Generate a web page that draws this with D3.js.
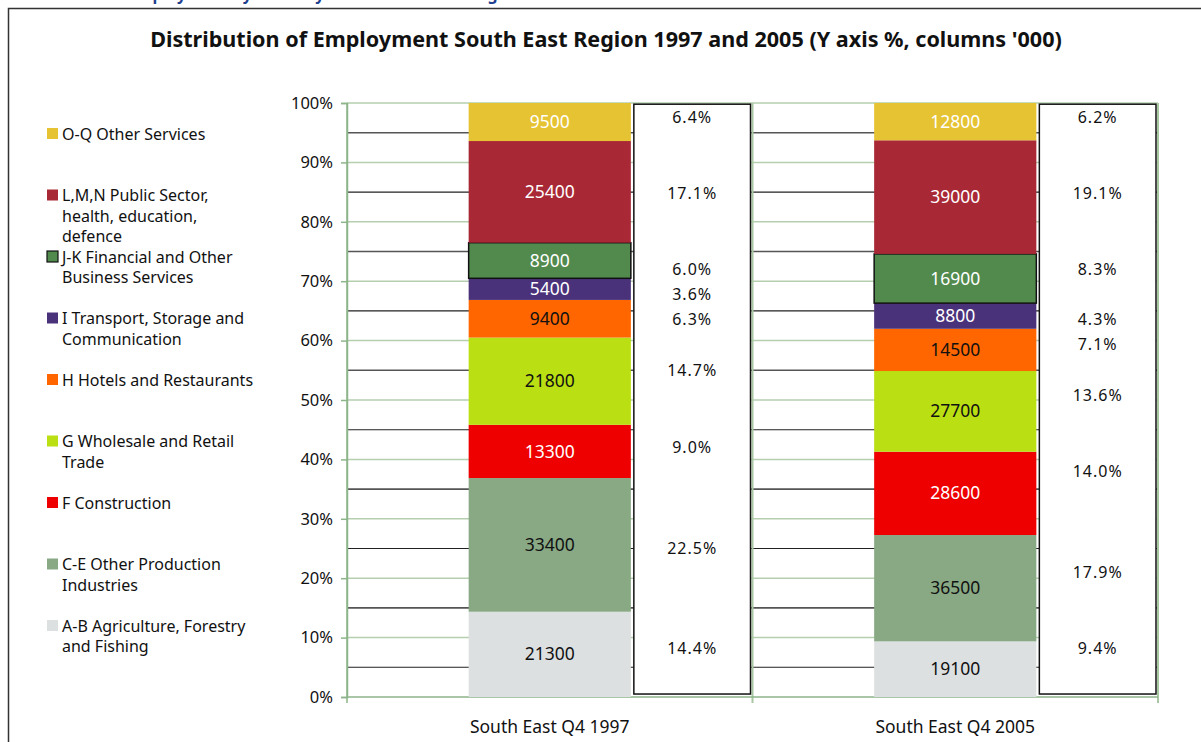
<!DOCTYPE html>
<html>
<head>
<meta charset="utf-8">
<script src="https://cdn.jsdelivr.net/npm/d3@7"></script>
<style>
  body { margin: 0; background: #fff; }
  svg text { font-family: "Noto Sans", "DejaVu Sans", sans-serif; }
</style>
</head>
<body>
<div id="chart"></div>
<script>
// categories, bottom of the stack first
var sectors = ["A-B", "C-E", "F", "G", "H", "I", "J-K", "L,M,N", "O-Q"];
var legendLines = [
  ["A-B Agriculture, Forestry", "and Fishing"],
  ["C-E Other Production", "Industries"],
  ["F Construction"],
  ["G Wholesale and Retail", "Trade"],
  ["H Hotels and Restaurants"],
  ["I Transport, Storage and", "Communication"],
  ["J-K Financial and Other", "Business Services"],
  ["L,M,N Public Sector,", "health, education,", "defence"],
  ["O-Q Other Services"]
];
var colours = ["#dde0e1", "#89a985", "#ee0000", "#badf12", "#ff6600", "#4a327a", "#528a4e", "#a92835", "#e6c333"];
var labelInk = ["#111", "#111", "#fff", "#111", "#111", "#fff", "#fff", "#fff", "#fff"];

var years = ["South East Q4 1997", "South East Q4 2005"];
// employment, '000
var jobs1997 = [21300, 33400, 13300, 21800, 9400, 5400, 8900, 25400, 9500];
var jobs2005 = [19100, 36500, 28600, 27700, 14500, 8800, 16900, 39000, 12800];
// printed shares
var share1997 = [14.4, 22.5, 9.0, 14.7, 6.3, 3.6, 6.0, 17.1, 6.4];
var share2005 = [9.4, 17.9, 14.0, 13.6, 7.1, 4.3, 8.3, 19.1, 6.2];
// where the share labels sit, on the % axis
var shareAt1997 = [8.25, 25.1, 42.1, 54.9, 63.5, 67.85, 72.05, 84.7, 97.5];
var shareAt2005 = [8.25, 21.0, 38.05, 50.7, 59.3, 63.5, 72.05, 84.7, 97.5];

var yTicks = [0, 10, 20, 30, 40, 50, 60, 70, 80, 90, 100];
var midLines = [5, 15, 25, 35, 45, 55, 65, 75, 85, 95];

var W = 1201, H = 742;
var svg = d3.select("#chart").append("svg").attr("width", W).attr("height", H);

// frame + cut-off heading above it
svg.append("text").attr("x", 128).attr("y", 0).attr("fill", "#1f3f8f")
  .style("font-size", "16px").style("font-weight", "bold")
  .text("Employment by Industry in the South East Region");
svg.append("rect").attr("x", 8.5).attr("y", 8.5).attr("width", 1220).attr("height", 760)
  .attr("fill", "none").attr("stroke", "#333").attr("stroke-width", 1.5);

var title = svg.append("text").attr("x", 606).attr("y", 47).attr("text-anchor", "middle")
  .style("font-size", "19px").style("font-weight", "bold").attr("fill", "#111")
  .text("Distribution of Employment South East Region 1997 and 2005 (Y axis %, columns '000)");
var tw = title.node().getComputedTextLength();
title.style("font-size", (19 * 912 / tw) + "px");

var y = d3.scaleLinear().domain([0, 100]).range([697, 103]);
var x = d3.scaleBand().domain(years).range([347, 1158]);
var barW = x.bandwidth() * 0.4;

// green grid
svg.append("g").selectAll("line").data(yTicks.slice(1)).enter().append("line")
  .attr("x1", 347).attr("x2", 1158)
  .attr("y1", function(d) { return y(d); }).attr("y2", function(d) { return y(d); })
  .attr("stroke", "#b5cfae").attr("stroke-width", 1.5);
// darker half-step lines
svg.append("g").selectAll("line").data(midLines).enter().append("line")
  .attr("x1", 347).attr("x2", 1158)
  .attr("y1", function(d) { return y(d); }).attr("y2", function(d) { return y(d); })
  .attr("stroke", function(d, i) { return i % 2 ? "#555" : "#222"; })
  .attr("stroke-width", function(d, i) { return i % 2 ? 1.6 : 1.1; });
// category separators
svg.append("g").selectAll("line").data(years.concat(["end"])).enter().append("line")
  .attr("x1", function(d, i) { return i < 2 ? x(d) : 1158; })
  .attr("x2", function(d, i) { return i < 2 ? x(d) : 1158; })
  .attr("y1", y(100)).attr("y2", 703)
  .attr("stroke", "#a9c7a2").attr("stroke-width", 2);

// y axis
var yAxis = d3.axisLeft(y).tickValues(yTicks).tickSize(6).tickPadding(8)
  .tickFormat(function(d) { return d + "%"; });
var ya = svg.append("g").attr("transform", "translate(347,0)").call(yAxis);
ya.select(".domain").attr("stroke", "#8db58a").attr("stroke-width", 1.5);
ya.selectAll(".tick line").attr("stroke", "#8db58a").attr("stroke-width", 1.5);
ya.selectAll("text").style("font-size", "16.5px").attr("fill", "#111")
  .style("font-family", "'Noto Sans', sans-serif");
svg.append("line").attr("x1", 347).attr("x2", 1158).attr("y1", y(0)).attr("y2", y(0))
  .attr("stroke", "#8db58a").attr("stroke-width", 1.5);

// x axis labels
var xAxis = d3.axisBottom(x).tickSize(0).tickPadding(24);
var xa = svg.append("g").attr("transform", "translate(0," + y(0) + ")").call(xAxis);
xa.select(".domain").remove();
xa.selectAll("text").style("font-size", "17.5px").attr("fill", "#111")
  .style("font-family", "'Noto Sans', sans-serif");

var columns = [
  { year: years[0], jobs: jobs1997, share: share1997, at: shareAt1997 },
  { year: years[1], jobs: jobs2005, share: share2005, at: shareAt2005 }
];

columns.forEach(function(col) {
  var total = d3.sum(col.jobs);
  var acc = 0;
  var segs = col.jobs.map(function(v, i) {
    var s = { i: i, v: v, y0: acc / total * 100, y1: (acc + v) / total * 100 };
    acc += v;
    return s;
  });
  var bx = x(col.year) + (x.bandwidth() - barW) / 2;
  var g = svg.append("g");

  g.selectAll("rect").data(segs).enter().append("rect")
    .attr("x", bx).attr("width", barW)
    .attr("y", function(d) { return y(d.y1); })
    .attr("height", function(d) { return y(d.y0) - y(d.y1); })
    .attr("fill", function(d) { return colours[d.i]; })
    .attr("stroke", function(d) { return d.i == 6 ? "#111" : "none"; })
    .attr("stroke-width", 1.5);

  g.selectAll("text").data(segs).enter().append("text")
    .attr("x", bx + barW / 2)
    .attr("y", function(d) { return y((d.y0 + d.y1) / 2); })
    .attr("dy", "0.35em").attr("text-anchor", "middle")
    .attr("fill", function(d) { return labelInk[d.i]; })
    .style("font-size", "17.5px")
    .text(function(d) { return d.v; });

  // white share box
  var boxX = bx + barW + 3;
  var boxW = x(col.year) + x.bandwidth() - 2 - boxX;
  svg.append("rect").attr("x", boxX).attr("width", boxW)
    .attr("y", y(99.8)).attr("height", y(0.5) - y(99.8))
    .attr("fill", "#fff").attr("stroke", "#111").attr("stroke-width", 1.5);

  svg.append("g").selectAll("text").data(col.share).enter().append("text")
    .attr("x", boxX + boxW / 2)
    .attr("y", function(d, i) { return y(col.at[i]); })
    .attr("dy", "0.35em").attr("text-anchor", "middle")
    .attr("fill", "#111").style("font-size", "16px").style("letter-spacing", "1px")
    .text(function(d) { return d.toFixed(1) + "%"; });
});

// legend, top entry first
var legend = svg.append("g");
var order = d3.range(sectors.length).reverse();
order.forEach(function(i, k) {
  var ly = 134 + k * 61.5;
  legend.append("rect").attr("x", 47).attr("y", ly - 6).attr("width", 11).attr("height", 11)
    .attr("fill", colours[i])
    .attr("stroke", i == 6 ? "#111" : "none").attr("stroke-width", 1.2);
  legendLines[i].forEach(function(line, j) {
    legend.append("text").attr("x", 62).attr("y", ly + j * 20.5).attr("dy", "0.35em")
      .attr("fill", "#111").style("font-size", "16px").text(line);
  });
});
</script>
</body>
</html>
